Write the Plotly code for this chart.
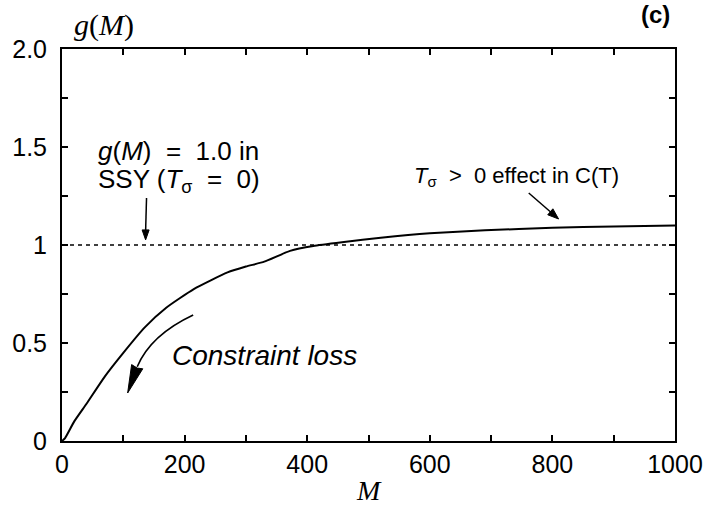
import plotly.graph_objects as go

# Data
M_vals = [0, 5, 20, 40, 70, 100, 135, 170, 215, 270, 300, 330, 372, 410, 460, 520, 600, 690, 800, 900, 1000]
g_vals = [0, 0.015, 0.10, 0.19, 0.33, 0.45, 0.58, 0.68, 0.775, 0.86, 0.89, 0.915, 0.97, 0.995, 1.015, 1.037, 1.06, 1.075, 1.088, 1.095, 1.10]

ssy_M = [0, 1000]
ssy_g = [1.0, 1.0]

x_tickvals = [0, 200, 400, 600, 800, 1000]
x_ticktext = ["0", "200", "400", "600", "800", "1000"]
x_minor = [100, 300, 500, 700, 900]
y_tickvals = [0, 0.5, 1.0, 1.5, 2.0]
y_ticktext = ["0", "0.5", "1", "1.5", "2.0"]
y_minor = [0.25, 0.75, 1.25, 1.75]

SANS = "Liberation Sans, Arial, Helvetica, sans-serif"
SERIF = "Liberation Serif, Times New Roman, serif"

fig = go.Figure()
fig.add_trace(go.Scatter(x=ssy_M, y=ssy_g, mode="lines",
                         line=dict(color="black", width=1.5, dash="4px,4px"),
                         showlegend=False, hoverinfo="skip"))
fig.add_trace(go.Scatter(x=M_vals, y=g_vals, mode="lines",
                         line=dict(color="black", width=2, shape="spline", smoothing=0.5),
                         showlegend=False, hoverinfo="skip"))

axis_common = dict(showline=True, linecolor="black", linewidth=2, mirror="ticks",
                   ticks="inside", ticklen=6, tickwidth=1.5, tickcolor="black",
                   showgrid=False, zeroline=False,
                   tickfont=dict(family=SANS, size=25, color="black"))

fig.update_xaxes(range=[0, 1000], tickmode="array", tickvals=x_tickvals, ticktext=x_ticktext,
                 minor=dict(tickmode="array", tickvals=x_minor, ticks="inside", ticklen=6,
                            tickwidth=1.5, tickcolor="black", showgrid=False),
                 **axis_common)
fig.update_yaxes(range=[0, 2.0], tickmode="array", tickvals=y_tickvals, ticktext=y_ticktext,
                 minor=dict(tickmode="array", tickvals=y_minor, ticks="inside", ticklen=6,
                            tickwidth=1.5, tickcolor="black", showgrid=False),
                 ticklabelstandoff=8, **axis_common)

SUB26 = '<span style="font-size:18px;baseline-shift:-5px">σ</span>'
SUB22 = '<span style="font-size:15px;baseline-shift:-4px">σ</span>'

annotations = [
    dict(text="<i>g</i>(<i>M</i>)", x=0.068, y=1.061, xref="paper", yref="paper",
         xanchor="center", yanchor="middle",
         showarrow=False, font=dict(family=SERIF, size=30, color="black")),
    dict(text="<b>(c)</b>", x=0.9675, y=1.089, xref="paper", yref="paper",
         xanchor="center", yanchor="middle",
         showarrow=False, font=dict(family=SANS, size=24, color="black")),
    dict(text="<i>M</i>", x=0.5, y=-0.125, xref="paper", yref="paper",
         xanchor="center", yanchor="middle",
         showarrow=False, font=dict(family=SERIF, size=28, color="black")),
    dict(text="<i>g</i>(<i>M</i>)  =  1.0 in", x=55, y=1.48, xref="x", yref="y",
         xanchor="left", yanchor="middle", showarrow=False,
         font=dict(family=SANS, size=26, color="black")),
    dict(text="SSY (<i>T</i>" + SUB26 + "  =  0)", x=55, y=1.33, xref="x", yref="y",
         xanchor="left", yanchor="middle", showarrow=False,
         font=dict(family=SANS, size=26, color="black")),
    dict(text="<i>T</i>" + SUB22 + "  >  0 effect in C(T)", x=742, y=1.35, xref="x", yref="y",
         xanchor="center", yanchor="middle", showarrow=False,
         font=dict(family=SANS, size=22, color="black")),
    dict(text="<i>Constraint loss</i>", x=331, y=0.434, xref="x", yref="y",
         xanchor="center", yanchor="middle", showarrow=False,
         font=dict(family=SANS, size=28, color="black")),
]
fig.update_layout(annotations=annotations)

# Arrow shafts and heads (annotation decorations)
arrow_line = dict(color="black", width=1.5)
# SSY arrow
fig.add_shape(type="line", xref="x", yref="y", x0=137.9, y0=1.240, x1=136.4, y1=1.07,
              line=arrow_line)
fig.add_shape(type="path", xref="x", yref="y",
              path="M 136.4,1.026 L 130.7,1.077 L 142.1,1.077 Z",
              line=dict(color="black", width=1), fillcolor="black")
# effect arrow
fig.add_shape(type="line", xref="x", yref="y", x0=761.4, y0=1.2653, x1=796.6, y1=1.1694,
              line=arrow_line)
fig.add_shape(type="path", xref="x", yref="y",
              path="M 810.1,1.1327 L 792.4,1.1541 L 800.8,1.1847 Z",
              line=dict(color="black", width=1), fillcolor="black")
# constraint loss curved arrow
fig.add_shape(type="path", xref="x", yref="y",
              path="M 214,0.643 Q 144.5,0.541 122.7,0.379",
              line=dict(color="black", width=1.6))
fig.add_shape(type="path", xref="x", yref="y",
              path="M 107.1,0.2449 L 131.8,0.3684 L 122.7,0.372 L 113.6,0.3898 Z",
              line=dict(color="black", width=1), fillcolor="black")

fig.update_layout(width=715, height=516, margin=dict(l=61, r=38, t=49, b=75),
                  paper_bgcolor="white", plot_bgcolor="white")

fig.write_html("out.html")
